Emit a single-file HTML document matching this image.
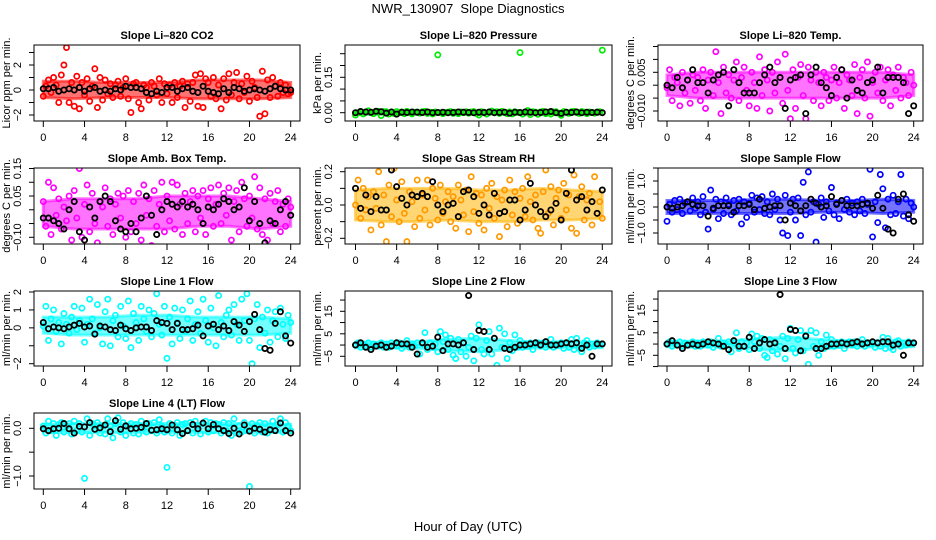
<!DOCTYPE html>
<html><head><meta charset="utf-8"><title>NWR_130907 Slope Diagnostics</title>
<style>
html,body{margin:0;padding:0;background:#fff;}
svg{display:block;font-family:"Liberation Sans",Arial,sans-serif;}
</style></head>
<body>
<svg id="chart" width="936" height="540" viewBox="0 0 936 540" xmlns="http://www.w3.org/2000/svg">
<rect width="936" height="540" fill="#fff"/>
<text x="468" y="13" font-size="13" text-anchor="middle" style="white-space:pre">NWR_130907  Slope Diagnostics</text>
<text x="468" y="531" font-size="13" text-anchor="middle">Hour of Day (UTC)</text>
</svg>
<script>
const xTicks = [0,4,8,12,16,20,24];
const bandHours = [0,3,6,9,12,15,18,21,24];

// Panel 1: CO2
const co2Color = [-0.5,0.3,0.8,-0.2,1.0,0.4,-1.0,1.2,2.0,3.4,-1.0,0.6,
-1.3,1.1,-1.5,0.6,-0.4,0.9,-0.9,0.3,1.7,-1.4,1.0,-0.8,
0.8,-0.3,0.5,-0.6,0.4,0.7,-0.5,0.2,0.9,-0.7,-1.8,0.5,
0.6,-1.0,-1.5,0.4,0.2,-0.8,0.6,0.3,-0.4,0.9,-1.0,0.5,
-0.3,0.4,-1.0,0.6,-0.6,0.3,0.7,-1.4,0.5,-0.9,0.6,1.2,
-1.3,1.3,-1.4,0.9,0.6,-0.5,1.0,-0.7,0.4,-1.5,0.9,-0.8,
1.3,-0.4,0.6,1.4,-0.7,0.5,-0.2,1.1,-0.9,0.7,0.2,-0.6,
-2.1,1.5,-1.9,0.8,-0.6,1.0,0.3,-0.5,0.6,-0.2,0.4,-0.3,-0.2];
const co2Black = [0.1,0.1,0.2,-0.1,0,0.1,0,0.2,-0.1,0.1,0.2,-0.1,0,-0.1,0.1,0,0.3,0.2,0.2,0.1,-0.2,-0.3,-0.1,-0.2,0.2,0.2,-0.1,0.1,0.2,-0.1,-0.2,0.3,-0.1,-0.2,-0.3,0.1,-0.2,0.2,0.1,-0.1,0,0.1,0,-0.1,0.1,0.3,0.1,0,0];
const co2BandLo = [-0.6,-0.7,-0.6,-0.6,-0.6,-0.7,-0.7,-0.7,-0.6];
const co2BandHi = [0.7,0.7,0.6,0.6,0.6,0.8,0.8,0.8,0.6];

// Panel 2: Pressure
const presColor = [-0.01,0,0.005,-0.005,0.003,0.008,0,-0.004,0.002,0.006,-0.012,0.005,
0.004,-0.006,0.002,-0.003,0.005,0,0.003,-0.004,0.006,0.001,-0.005,0.002,
0.003,-0.002,0.004,0.006,-0.003,0.002,-0.005,0.003,0.245,0,-0.004,0.001,
0.002,0.005,-0.003,0.002,-0.004,0.003,0,0.004,-0.002,0.003,0.005,-0.003,
-0.01,0.004,0.002,-0.006,0.003,0.007,0.002,0.004,-0.003,0.006,0.002,-0.004,
0.003,-0.005,0.004,0.001,0.255,-0.006,0.003,0.009,-0.008,0.004,0.002,-0.007,
0.003,0.006,-0.004,0.002,-0.006,0.003,0.004,-0.002,-0.011,0.005,0.002,-0.003,
0.004,0.006,0.001,-0.003,0.005,0.002,-0.004,0.003,0.001,-0.002,0.003,0.004,0.265];
const presBlack = [0,0.005,0.003,0.002,0.006,0.004,-0.002,0.003,-0.006,0.002,0.001,0.003,0.002,0.001,0.003,0,0.001,0.002,0,0.001,0.003,0.002,0.001,0,0.002,0.001,0.003,0,0.001,0.002,-0.002,0.002,0.001,0.003,0.002,0,0.001,0.003,0.005,0,-0.003,0.002,0.001,0.003,0,0.002,0.001,0.002,0];
const presBandLo = [-0.007,-0.006,-0.006,-0.006,-0.007,-0.006,-0.007,-0.006,-0.006];
const presBandHi = [0.005,0.005,0.005,0.005,0.005,0.006,0.005,0.005,0.005];

// Panel 3: Li-820 Temp
const tempColor = [-0.001,0.006,-0.006,0.003,0.001,-0.008,0.005,-0.003,0.002,-0.007,0.004,-0.002,
0.003,-0.006,0.006,-0.009,0.002,0.005,-0.004,0.013,0.001,-0.011,0.007,-0.003,
0.004,-0.005,0.002,0.009,-0.006,0.003,0.007,-0.002,-0.008,0.005,0.001,-0.009,
0.011,-0.004,0.006,0.002,-0.010,0.005,-0.003,0.009,0.003,-0.007,0.012,-0.002,
-0.013,0.006,-0.009,0.003,0.008,-0.004,-0.013,0.007,0.002,-0.006,0.005,0.001,
-0.008,0.005,0.003,-0.006,0.002,0.007,-0.005,0.001,0.006,-0.009,0.004,0.002,
-0.004,0.008,-0.011,0.003,0.006,-0.005,0.009,-0.012,0.001,0.005,-0.003,0.007,
-0.006,0.002,0.006,-0.008,0.004,-0.002,0.007,-0.005,0.003,0.001,-0.004,0.005,0.0];
const tempBlack = [0,-0.001,0.003,-0.001,0.002,0.006,0.001,0.001,-0.003,0.002,0.004,0.005,-0.008,0.006,0.001,-0.003,-0.003,-0.003,0.001,0.004,0.007,0.001,0.003,-0.009,0.002,0.003,0.004,-0.011,0.004,0.007,0.001,-0.001,-0.004,0.003,0.006,-0.005,0.002,-0.002,-0.003,0.001,0.002,0.007,-0.003,0.003,0.003,0.003,0.001,-0.011,-0.008];
const tempBandLo = [-0.004,-0.005,-0.005,-0.005,-0.005,-0.005,-0.005,-0.005,-0.004];
const tempBandHi = [0.004,0.005,0.005,0.005,0.005,0.005,0.005,0.005,0.004];

// Panel 4: Amb Box Temp
const ambColor = [0.03,-0.06,0.10,-0.09,0.08,-0.02,0.04,-0.07,0.01,-0.04,0.05,-0.11,
0.07,-0.03,0.15,-0.10,0.02,0.09,-0.08,0.06,-0.05,-0.12,0.03,0.01,
0.08,-0.06,0.04,-0.09,0.02,0.06,-0.03,0.05,-0.10,0.07,-0.08,0.03,
-0.05,0.06,-0.11,0.09,-0.02,0.04,-0.13,0.07,-0.06,0.02,0.10,-0.08,
0.05,-0.04,0.10,-0.07,0.09,0.02,-0.09,0.06,-0.05,0.03,0.07,-0.08,
0.05,-0.03,0.07,-0.09,0.04,0.08,-0.06,0.02,0.09,-0.05,0.06,-0.02,
0.08,-0.11,0.03,0.07,-0.08,0.10,0.04,-0.06,0.05,-0.03,0.12,-0.07,
0.08,-0.09,0.04,-0.11,0.06,-0.05,0.03,0.07,-0.08,0.02,-0.06,0.04,0.01];
const ambBlack = [-0.03,-0.03,-0.04,-0.05,-0.07,0.0,0.03,-0.08,-0.11,0.01,-0.03,0.03,0.05,0.03,-0.04,-0.07,-0.08,-0.05,-0.08,-0.03,0.05,-0.02,-0.09,0.0,0.03,0.02,0.01,0.03,0.01,0.02,0.0,-0.05,0.01,0.0,0.02,0.04,0.03,0.0,0.01,0.08,-0.04,0.03,-0.05,-0.12,-0.04,-0.05,0.0,0.03,-0.02];
const ambBandLo = [-0.06,-0.07,-0.07,-0.07,-0.07,-0.06,-0.06,-0.07,-0.06];
const ambBandHi = [0.03,0.04,0.04,0.04,0.05,0.05,0.05,0.04,0.03];

// Panel 5: Gas Stream RH
const rhColor = [0.0,0.15,-0.08,0.10,-0.03,0.05,-0.15,0.08,-0.02,0.20,-0.12,0.06,
-0.22,0.12,-0.07,0.22,0.03,-0.10,0.14,-0.05,-0.22,0.08,0.02,-0.13,
0.15,-0.08,0.06,-0.03,0.15,-0.12,0.10,0.04,-0.09,0.12,-0.05,0.02,
0.08,-0.10,0.05,-0.14,0.12,0.03,-0.06,0.09,-0.16,0.17,-0.04,0.07,
-0.11,0.06,-0.15,0.10,-0.02,0.13,-0.08,0.05,-0.19,0.03,0.09,-0.13,
0.15,-0.06,0.08,-0.11,0.04,0.10,-0.07,0.17,0.02,-0.09,0.06,-0.14,
-0.17,0.08,0.21,-0.05,0.11,-0.12,0.04,0.09,-0.08,0.13,-0.03,0.06,
-0.14,0.18,-0.17,0.05,0.11,-0.09,0.03,0.07,-0.12,0.17,-0.05,0.02,-0.08];
const rhBlack = [0.1,-0.02,0.06,-0.04,0.05,-0.03,-0.03,0.21,0.11,0.04,0.0,0.06,0.05,0.07,0.05,0.14,0.0,-0.04,0.0,0.01,-0.07,0.08,0.09,0.05,-0.05,0.0,-0.06,0.07,-0.05,-0.04,0.03,0.03,-0.09,-0.03,0.13,0.0,-0.04,-0.07,-0.03,0.01,-0.09,0.07,0.21,0.03,0.05,-0.03,0.02,-0.05,0.09];
const rhBandLo = [-0.09,-0.1,-0.1,-0.09,-0.1,-0.1,-0.09,-0.09,-0.08];
const rhBandHi = [0.09,0.1,0.1,0.1,0.09,0.09,0.1,0.09,0.08];

// Panel 6: Sample Flow
const sampColor = [-0.55,0.1,-0.2,0.25,-0.1,0.3,-0.25,0.15,0.2,-0.15,0.35,-0.05,
0.2,-0.3,0.4,-0.2,-0.85,0.65,-0.1,0.3,-0.45,0.2,-0.25,0.35,
0.1,-0.3,0.25,-0.15,0.3,-0.65,0.2,-0.4,0.15,0.45,-0.2,0.35,
-0.1,0.4,-0.25,0.2,-0.3,0.5,-0.1,0.3,-0.5,-1.0,0.45,-1.1,
-0.2,0.3,-0.5,0.35,-1.1,0.95,-0.3,1.35,-0.2,0.2,-1.35,0.1,
0.35,-0.4,0.2,-0.15,0.75,-0.3,0.15,-0.45,0.25,-0.1,0.3,-0.2,
0.15,-0.3,0.2,-0.15,0.3,-0.25,0.1,1.45,-1.15,0.2,-0.6,1.25,
0.7,-0.8,0.3,-0.3,0.45,-0.25,0.2,1.25,-0.35,0.3,-0.45,0.15,0.0];
const sampBlack = [0,-0.05,0,0.05,0.2,0.1,0.05,0.05,-0.35,-0.05,0.05,0.05,0.05,-0.2,0.05,0.05,0.1,-0.1,0.3,-0.05,0,0.05,0.05,-0.5,0.15,0.05,-0.15,0.05,0.3,0.15,0,0.05,0.4,0.1,0.25,0.05,0.05,0.05,0.1,0.15,-0.05,0.45,-0.05,-0.85,-1.0,0.3,0.5,-0.3,-0.55];
const sampBandLo = [-0.25,-0.25,-0.25,-0.25,-0.25,-0.2,-0.2,-0.25,-0.2];
const sampBandHi = [0.25,0.25,0.25,0.3,0.3,0.25,0.25,0.3,0.25];

// Panel 7: Line 1 Flow
const l1Color = [0.1,1.2,-0.7,0.5,1.0,-0.2,0.3,-0.9,0.8,0.2,-0.3,0.6,
1.2,-0.1,0.4,1.1,-0.8,0.2,1.6,0.5,-0.3,1.3,0.0,-0.9,
0.9,1.6,-1.0,0.4,0.7,-0.5,1.2,0.1,-0.6,1.5,-1.1,0.8,
0.3,-0.7,1.2,0.5,-0.2,1.0,-0.5,0.8,1.9,0.2,-0.4,1.2,
-1.7,0.6,-0.9,1.1,0.3,-0.6,1.0,-0.2,0.5,1.5,-0.7,0.2,
0.9,-0.3,1.6,0.4,-0.8,1.1,0.0,-1.0,1.8,0.3,-0.5,0.7,
1.0,-0.4,1.3,0.2,-0.7,1.6,0.4,1.9,-0.7,-2.0,0.5,1.3,
-1.1,0.6,-0.3,1.0,-0.8,0.4,0.9,-0.5,1.1,0.2,-0.6,0.7,0.3];
const l1Black = [0.3,-0.05,0.05,0,-0.05,0.05,0.15,0.25,0.05,0.1,-0.35,0.1,0.05,-0.1,-0.15,0.15,-0.05,-0.15,0,0.05,0.05,-0.15,0.4,0.3,0.25,-0.1,0.25,-0.1,-0.1,-0.05,0.15,-0.45,0.1,0.2,-0.1,0.1,-0.15,0.35,0.15,-0.2,0.35,0.75,-0.1,-1.15,-1.25,0.25,0.9,-0.45,-0.85];
const l1BandLo = [-0.3,-0.4,-0.4,-0.4,-0.4,-0.4,-0.4,-0.4,-0.3];
const l1BandHi = [0.6,0.6,0.6,0.7,0.7,0.6,0.6,0.6,0.5];

// Panel 8: Line 2 Flow
const l2Color = [0,1,-1,0.5,-0.5,1,-1,0.5,0,-0.5,1,-1,
0.5,-1,1,0,-0.5,1,-1.5,0.5,2,-1,0.5,-0.5,
1,-4,0.5,5.5,-2,1,-1,0.5,-3,6,1.5,4.5,
-2,3,-4.5,-6,2.5,-3,1,-5,-1,4,-7,3,
9,-2,-4,2,6,-4,3,-9,7.5,-1,5,-6,
1,-2.5,4.5,-1,2,-1,0.5,-0.5,1,-2,0.5,1,
-0.5,1,-1,0.5,2.5,-1,0.5,0,1,-1.5,0.5,-1,
2.5,-2,3,-1.5,-3,1,2,-1,0.5,-0.5,1,0,0.5];
const l2Black = [0,1,-1,-2,-0.5,0,-1,-0.5,1,0.5,
0.5,-1,-4,1,-1,-0.5,3.5,-2.5,0.5,0.5,
0,1,22,-2,6.5,6,-2,3,-12,-1.5,
-2,-1,0,0,0.5,1,0,1.5,0,0,
0.5,1,0.5,1,-1.5,0,-5,0.5,0.5];
const l2BandLo = [-1.2,-1.2,-1.4,-2.5,-3,-2,-1.2,-1.3,-1.2];
const l2BandHi = [1.2,1.2,1.4,2.5,3,2,1.3,1.5,1.2];

// Panel 9: Line 3 Flow
const l3Color = [0,1,-1,0.5,-0.5,1,-1,0.5,0,-0.5,1,-1,
0.5,-1,1,0,-0.5,1,-1.5,0.5,2.5,-1,0.5,-0.5,
1,-3.5,0.5,5,-2,1,-1,0.5,-2.5,4.5,1,3.5,
-2,2.5,-5,-6,2,-3,1,-4.5,-1,3.5,-6.5,2.5,
7,-2,-4,2,6,-3,4,-9,6,-1,5,-5,
1,-2,4,-1,2,-1,0.5,-0.5,1,-2,0.5,1,
-0.5,1,-1,0.5,2,-1,0.5,0,1,-1.5,0.5,-1,
3,-2,2.5,-1.5,-2.5,1,1.5,-1,0.5,-0.5,1,0,0.5];
const l3Black = [0,1.5,-0.5,-2,-0.5,0,-0.5,0,1,0.5,
0,-1,-2.5,1.5,-1,-1,3,-2,0.5,2,
0,0.5,22,-2,6.5,6,-3,3.5,-12,-2,
-2,-1,0,0,0.5,0,0.5,1,0,0.5,
1,0.5,1,1,-0.5,0,-5,0.5,0.5];
const l3BandLo = [-1.2,-1.2,-1.4,-2.5,-3,-2,-1.2,-1.3,-1.2];
const l3BandHi = [1.2,1.2,1.4,2.5,3,2,1.3,1.5,1.2];

// Panel 10: Line 4 (LT) Flow
const l4Color = [0.05,-0.1,0.15,-0.05,0.1,-0.15,0.08,0.12,-0.08,0.05,0.1,-0.12,
0.15,-0.05,0.1,-0.08,-1.05,0.2,-0.15,0.1,0.05,0.12,-0.1,0.05,
-0.12,0.2,0.05,-0.2,0.1,0.22,-0.08,0.12,-0.15,0.05,0.1,-0.1,
0.08,-0.12,0.15,0.05,-0.08,0.1,-0.05,0.12,-0.1,0.18,0.05,-0.08,
-0.82,0.1,-0.1,0.05,0.12,-0.15,0.08,0.1,-0.05,0.12,-0.1,0.15,
0.05,-0.12,0.1,0.15,-0.08,0.12,-0.05,0.1,0.08,-0.1,0.12,-0.05,
0.1,-0.15,0.2,-0.1,0.05,-0.08,0.12,-0.05,-1.22,0.1,-0.1,0.05,
0.12,-0.08,0.1,-0.1,0.05,0.15,-0.05,0.08,0.2,-0.08,0.12,0.05,-0.05];
const l4Black = [-0.01,-0.05,-0.01,0,0.1,-0.01,-0.1,0.04,0.03,0.12,-0.02,0.01,0.07,-0.07,0.16,-0.02,0.05,-0.01,0,0.02,0.1,-0.04,-0.03,-0.01,-0.03,0.07,-0.03,-0.11,-0.05,0.08,-0.01,0.11,-0.01,0.08,-0.01,-0.05,-0.11,0,-0.12,0.07,-0.06,0,-0.02,-0.08,-0.03,-0.05,0.11,-0.05,-0.1];
const l4BandLo = [-0.08,-0.09,-0.09,-0.09,-0.09,-0.09,-0.09,-0.09,-0.08];
const l4BandHi = [0.08,0.1,0.1,0.1,0.1,0.1,0.1,0.1,0.08];

// Axis ticks / labels per panel
const co2Ticks = [-2,-1,0,1,2,3];   const co2Labels = ['-2','','0','','2',''];
const presTicks = [0,0.05,0.1,0.15,0.2,0.25]; const presLabels = ['0.00','','','0.15','',''];
const tempTicks = [-0.01,-0.005,0,0.005,0.01,0.015]; const tempLabels = ['-0.010','','','0.005','',''];
const ambTicks = [-0.1,-0.05,0,0.05,0.1,0.15]; const ambLabels = ['-0.10','','','0.05','','0.15'];
const rhTicks = [-0.2,-0.1,0,0.1,0.2]; const rhLabels = ['-0.2','','0.0','','0.2'];
const sampTicks = [-1,-0.5,0,0.5,1,1.5]; const sampLabels = ['-1.0','','0.0','','1.0',''];
const l1Ticks = [-2,-1,0,1,2]; const l1Labels = ['-2','','0','1','2'];
const l2Ticks = [-10,-5,0,5,10,15,20]; const l2Labels = ['','-5','','5','','15',''];
const l4Ticks = [-1,-0.5,0]; const l4Labels = ['-1.0','','0.0'];

const NS = 'http://www.w3.org/2000/svg';
const svg = document.getElementById('chart');
const C1 = {l:34,r:300,x0:43.3,x24:290.7}, C2 = {l:345,r:612,x0:355.5,x24:602.3}, C3 = {l:658,r:923,x0:667,x24:913.7};
const R1 = {t:45,b:121}, R2 = {t:168,b:244}, R3 = {t:291,b:366}, R4 = {t:413,b:489};

const panels = [
 {id:'co2', title:'Slope Li\u2013820 CO2', ylab:'Licor ppm per min.', c:C1, r:R1, v1:0, p1:90, v2:2, p2:65, col:data(co2Color,co2Black,co2BandLo,co2BandHi), ticks:co2Ticks, labels:co2Labels, color:'#ff0000', band:'#ff0000'},
 {id:'pressure', title:'Slope Li\u2013820 Pressure', ylab:'kPa per min.', c:C2, r:R1, v1:0, p1:112.7, v2:0.15, p2:77.3, col:data(presColor,presBlack,presBandLo,presBandHi), ticks:presTicks, labels:presLabels, color:'#00ee00', band:'#00dd00'},
 {id:'temp', title:'Slope Li\u2013820 Temp.', ylab:'degrees C per min.', c:C3, r:R1, v1:0.005, p1:72.3, v2:-0.01, p2:111, col:data(tempColor,tempBlack,tempBandLo,tempBandHi), ticks:tempTicks, labels:tempLabels, color:'#ff00ff', band:'#ff00ff'},
 {id:'amb-temp', title:'Slope Amb. Box Temp.', ylab:'degrees C per min.', c:C1, r:R2, v1:0.15, p1:168.5, v2:-0.1, p2:237.3, col:data(ambColor,ambBlack,ambBandLo,ambBandHi), ticks:ambTicks, labels:ambLabels, color:'#ff00ff', band:'#ff00ff'},
 {id:'rh', title:'Slope Gas Stream RH', ylab:'percent per min.', c:C2, r:R2, v1:0.2, p1:171.7, v2:-0.2, p2:238.3, col:data(rhColor,rhBlack,rhBandLo,rhBandHi), ticks:rhTicks, labels:rhLabels, color:'#ff9900', band:'#ffb400'},
 {id:'sample-flow', title:'Slope Sample Flow', ylab:'ml/min per min.', c:C3, r:R2, v1:1, p1:181, v2:-1, p2:233, col:data(sampColor,sampBlack,sampBandLo,sampBandHi), ticks:sampTicks, labels:sampLabels, color:'#0000ff', band:'#0000ff'},
 {id:'line1-flow', title:'Slope Line 1 Flow', ylab:'ml/min per min.', c:C1, r:R3, v1:2, p1:292, v2:-2, p2:363.7, col:data(l1Color,l1Black,l1BandLo,l1BandHi), ticks:l1Ticks, labels:l1Labels, color:'#00ffff', band:'#00ffff'},
 {id:'line2-flow', title:'Slope Line 2 Flow', ylab:'ml/min per min.', c:C2, r:R3, v1:15, p1:311.3, v2:-5, p2:356.3, col:data(l2Color,l2Black,l2BandLo,l2BandHi), ticks:l2Ticks, labels:l2Labels, color:'#00ffff', band:'#00ffff'},
 {id:'line3-flow', title:'Slope Line 3 Flow', ylab:'ml/min per min.', c:C3, r:R3, v1:15, p1:310.3, v2:-5, p2:355.3, col:data(l3Color,l3Black,l3BandLo,l3BandHi), ticks:l2Ticks, labels:l2Labels, color:'#00ffff', band:'#00ffff'},
 {id:'line4-flow', title:'Slope Line 4 (LT) Flow', ylab:'ml/min per min.', c:C1, r:R4, v1:0, p1:428.3, v2:-1, p2:476, col:data(l4Color,l4Black,l4BandLo,l4BandHi), ticks:l4Ticks, labels:l4Labels, color:'#00ffff', band:'#00ffff'}
];
function data(c,b,lo,hi){return {c:c,b:b,lo:lo,hi:hi};}

function mk(tag, attrs, parent){
  const e = document.createElementNS(NS, tag);
  for (const k in attrs) e.setAttribute(k, attrs[k]);
  parent.appendChild(e);
  return e;
}

panels.forEach(p => {
  const g = mk('g', {}, svg);
  
  
  const xs = h => p.c.x0 + h * (p.c.x24 - p.c.x0) / 24;
  const ys = v => p.p1 + (v - p.v1) * (p.p2 - p.p1) / (p.v2 - p.v1);
  const L = p.c.l, R = p.c.r, T = p.r.t, B = p.r.b;

  const clipId = 'clip-' + p.id;
  const cp = mk('clipPath', {id: clipId}, g);
  mk('rect', {x: L, y: T, width: R - L, height: B - T}, cp);
  const plot = mk('g', {'clip-path': 'url(#' + clipId + ')'}, g);

  let pts = [];
  p.col.hi.forEach((v, i) => pts.push(xs(bandHours[i]) + ',' + ys(v)));
  for (let i = p.col.lo.length - 1; i >= 0; i--) pts.push(xs(bandHours[i]) + ',' + ys(p.col.lo[i]));
  const band = mk('polygon', {points: pts.join(' '), fill: p.band, 'fill-opacity': 0.55, stroke: p.band, 'stroke-opacity': 0.55, 'stroke-width': 3}, plot);
  
  

  const nc = p.col.c.length;
  p.col.c.forEach((v, i) => {
    const pt = mk('circle', {cx: xs(i * 24 / (nc - 1)), cy: ys(v), r: 2.6, fill: 'none', stroke: p.color, 'stroke-width': 1.7}, plot);
    
    
  });
  const nb = p.col.b.length;
  p.col.b.forEach((v, i) => {
    const pt = mk('circle', {cx: xs(i * 24 / (nb - 1)), cy: ys(v), r: 2.6, fill: 'none', stroke: '#000', 'stroke-width': 1.8}, plot);
    
    
  });

  const box = mk('rect', {x: L, y: T, width: R - L, height: B - T, fill: 'none', stroke: '#000', 'stroke-width': 1}, g);
  
  

  const tt = mk('text', {x: (L + R) / 2, y: T - 6, 'font-size': 11, 'font-weight': 'bold', 'text-anchor': 'middle'}, g);
  tt.textContent = p.title;
  
  

  xTicks.forEach(h => {
    mk('line', {x1: xs(h), x2: xs(h), y1: B, y2: B + 6, stroke: '#000', 'stroke-width': 1}, g);
    const t = mk('text', {x: xs(h), y: B + 20, 'font-size': 11, 'text-anchor': 'middle'}, g);
    t.textContent = h;
    
    
  });

  p.ticks.forEach((v, i) => {
    const y = ys(v);
    if (y < T - 1 || y > B + 1) return;
    mk('line', {x1: L - 5, x2: L, y1: y, y2: y, stroke: '#000', 'stroke-width': 1}, g);
    if (p.labels[i]) {
      const t = mk('text', {x: L - 13, y: y, 'font-size': 11, 'text-anchor': 'middle', transform: 'rotate(-90 ' + (L - 13) + ' ' + y + ')'}, g);
      t.textContent = p.labels[i].replace('-', '\u2212');
      
      
    }
  });

  const yc = (T + B) / 2;
  const yt = mk('text', {x: L - 24, y: yc, 'font-size': 11, 'text-anchor': 'middle', transform: 'rotate(-90 ' + (L - 24) + ' ' + yc + ')'}, g);
  yt.textContent = p.ylab;
  
  
});
</script>
</body></html>
